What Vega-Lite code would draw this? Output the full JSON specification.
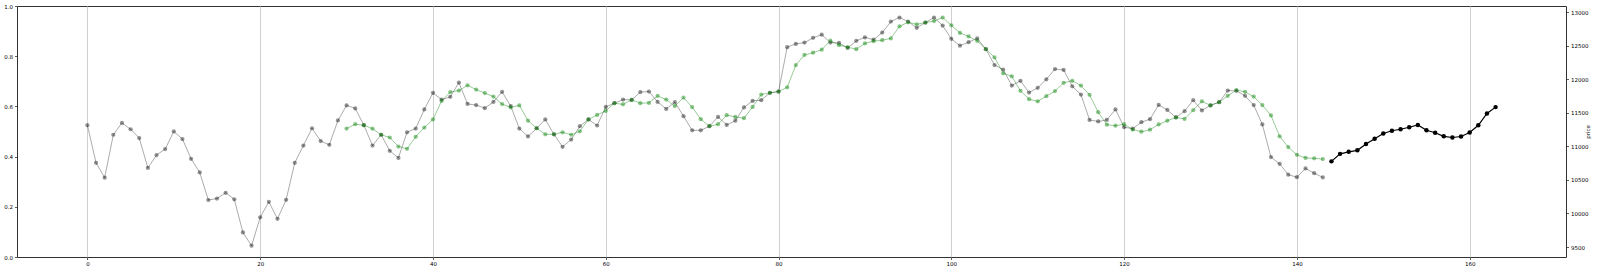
{
  "$schema": "https://vega.github.io/schema/vega-lite/v6.json",
  "width": 1549,
  "height": 251,
  "autosize": "none",
  "padding": {"left": 17, "top": 6, "right": 34, "bottom": 14},
  "background": "white",
  "config": {
    "view": {"stroke": "#333333", "strokeWidth": 1},
    "axis": {
      "labelFont": "DejaVu Sans",
      "titleFont": "DejaVu Sans",
      "labelFontSize": 5.5,
      "titleFontSize": 5.5,
      "titleFontWeight": "normal",
      "labelColor": "#000000",
      "titleColor": "#000000",
      "tickColor": "#333333",
      "tickSize": 2.5,
      "tickWidth": 0.8,
      "domain": false,
      "labelPadding": 2
    }
  },
  "datasets": {
    "leftaxis": [{"v": 0}, {"v": 1}],
    "actual": [
      {"x":0,"p":11316},{"x":1,"p":10755},{"x":2,"p":10534},{"x":3,"p":11174},{"x":4,"p":11350},{"x":5,"p":11256},{"x":6,"p":11125},{"x":7,"p":10680},{"x":8,"p":10871},{"x":9,"p":10960},
      {"x":10,"p":11223},{"x":11,"p":11110},{"x":12,"p":10815},{"x":13,"p":10612},{"x":14,"p":10201},{"x":15,"p":10223},{"x":16,"p":10309},{"x":17,"p":10212},{"x":18,"p":9718},{"x":19,"p":9519},
      {"x":20,"p":9942},{"x":21,"p":10174},{"x":22,"p":9920},{"x":23,"p":10204},{"x":24,"p":10755},{"x":25,"p":11013},{"x":26,"p":11271},{"x":27,"p":11080},{"x":28,"p":11024},{"x":29,"p":11387},
      {"x":30,"p":11612},{"x":31,"p":11567},{"x":32,"p":11316},{"x":33,"p":11013},{"x":34,"p":11174},{"x":35,"p":10934},{"x":36,"p":10829},{"x":37,"p":11211},{"x":38,"p":11267},{"x":39,"p":11552},
      {"x":40,"p":11799},{"x":41,"p":11698},{"x":42,"p":11739},{"x":43,"p":11952},{"x":44,"p":11634},{"x":45,"p":11616},{"x":46,"p":11571},{"x":47,"p":11664},{"x":48,"p":11814},{"x":49,"p":11601},
      {"x":50,"p":11267},{"x":51,"p":11148},{"x":52,"p":11271},{"x":53,"p":11402},{"x":54,"p":11181},{"x":55,"p":10994},{"x":56,"p":11103},{"x":57,"p":11301},{"x":58,"p":11402},{"x":59,"p":11312},
      {"x":60,"p":11589},{"x":61,"p":11645},{"x":62,"p":11698},{"x":63,"p":11694},{"x":64,"p":11810},{"x":65,"p":11818},{"x":66,"p":11664},{"x":67,"p":11559},{"x":68,"p":11660},{"x":69,"p":11451},
      {"x":70,"p":11241},{"x":71,"p":11241},{"x":72,"p":11301},{"x":73,"p":11440},{"x":74,"p":11320},{"x":75,"p":11383},{"x":76,"p":11582},{"x":77,"p":11679},{"x":78,"p":11690},{"x":79,"p":11799},
      {"x":80,"p":11818},{"x":81,"p":12480},{"x":82,"p":12529},{"x":83,"p":12548},{"x":84,"p":12619},{"x":85,"p":12667},{"x":86,"p":12548},{"x":87,"p":12544},{"x":88,"p":12469},{"x":89,"p":12574},
      {"x":90,"p":12626},{"x":91,"p":12592},{"x":92,"p":12697},{"x":93,"p":12862},{"x":94,"p":12922},{"x":95,"p":12862},{"x":96,"p":12768},{"x":97,"p":12847},{"x":98,"p":12922},{"x":99,"p":12802},
      {"x":100,"p":12604},{"x":101,"p":12503},{"x":102,"p":12555},{"x":103,"p":12611},{"x":104,"p":12450},{"x":105,"p":12214},{"x":106,"p":12147},{"x":107,"p":11907},{"x":108,"p":11979},{"x":109,"p":11803},
      {"x":110,"p":11874},{"x":111,"p":12001},{"x":112,"p":12154},{"x":113,"p":12140},{"x":114,"p":11896},{"x":115,"p":11773},{"x":116,"p":11395},{"x":117,"p":11372},{"x":118,"p":11395},{"x":119,"p":11552},
      {"x":120,"p":11286},{"x":121,"p":11264},{"x":122,"p":11361},{"x":123,"p":11406},{"x":124,"p":11619},{"x":125,"p":11544},{"x":126,"p":11432},{"x":127,"p":11526},{"x":128,"p":11690},{"x":129,"p":11537},
      {"x":130,"p":11612},{"x":131,"p":11660},{"x":132,"p":11833},{"x":133,"p":11829},{"x":134,"p":11754},{"x":135,"p":11616},{"x":136,"p":11327},{"x":137,"p":10841},{"x":138,"p":10740},{"x":139,"p":10579},
      {"x":140,"p":10541},{"x":141,"p":10672},{"x":142,"p":10601},{"x":143,"p":10538}
    ],
    "pred": [
      {"x":30,"p":11267},{"x":31,"p":11331},{"x":32,"p":11316},{"x":33,"p":11264},{"x":34,"p":11174},{"x":35,"p":11133},{"x":36,"p":10998},{"x":37,"p":10964},{"x":38,"p":11144},{"x":39,"p":11282},
      {"x":40,"p":11402},{"x":41,"p":11679},{"x":42,"p":11810},{"x":43,"p":11833},{"x":44,"p":11911},{"x":45,"p":11848},{"x":46,"p":11795},{"x":47,"p":11743},{"x":48,"p":11631},{"x":49,"p":11582},
      {"x":50,"p":11612},{"x":51,"p":11383},{"x":52,"p":11271},{"x":53,"p":11181},{"x":54,"p":11181},{"x":55,"p":11211},{"x":56,"p":11174},{"x":57,"p":11226},{"x":58,"p":11402},{"x":59,"p":11470},
      {"x":60,"p":11529},{"x":61,"p":11645},{"x":62,"p":11627},{"x":63,"p":11694},{"x":64,"p":11645},{"x":65,"p":11649},{"x":66,"p":11754},{"x":67,"p":11698},{"x":68,"p":11601},{"x":69,"p":11728},
      {"x":70,"p":11586},{"x":71,"p":11406},{"x":72,"p":11301},{"x":73,"p":11331},{"x":74,"p":11466},{"x":75,"p":11440},{"x":76,"p":11421},{"x":77,"p":11589},{"x":78,"p":11773},{"x":79,"p":11799},
      {"x":80,"p":11818},{"x":81,"p":11881},{"x":82,"p":12214},{"x":83,"p":12364},{"x":84,"p":12398},{"x":85,"p":12443},{"x":86,"p":12577},{"x":87,"p":12510},{"x":88,"p":12480},{"x":89,"p":12450},
      {"x":90,"p":12536},{"x":91,"p":12570},{"x":92,"p":12585},{"x":93,"p":12611},{"x":94,"p":12791},{"x":95,"p":12851},{"x":96,"p":12821},{"x":97,"p":12847},{"x":98,"p":12869},{"x":99,"p":12922},
      {"x":100,"p":12806},{"x":101,"p":12693},{"x":102,"p":12641},{"x":103,"p":12574},{"x":104,"p":12450},{"x":105,"p":12327},{"x":106,"p":12091},{"x":107,"p":12046},{"x":108,"p":11829},{"x":109,"p":11705},
      {"x":110,"p":11672},{"x":111,"p":11750},{"x":112,"p":11825},{"x":113,"p":11949},{"x":114,"p":11979},{"x":115,"p":11907},{"x":116,"p":11769},{"x":117,"p":11511},{"x":118,"p":11324},{"x":119,"p":11309},
      {"x":120,"p":11331},{"x":121,"p":11252},{"x":122,"p":11219},{"x":123,"p":11249},{"x":124,"p":11327},{"x":125,"p":11383},{"x":126,"p":11432},{"x":127,"p":11410},{"x":128,"p":11541},{"x":129,"p":11672},
      {"x":130,"p":11612},{"x":131,"p":11660},{"x":132,"p":11754},{"x":133,"p":11840},{"x":134,"p":11814},{"x":135,"p":11743},{"x":136,"p":11616},{"x":137,"p":11462},{"x":138,"p":11151},{"x":139,"p":10990},
      {"x":140,"p":10874},{"x":141,"p":10829},{"x":142,"p":10822},{"x":143,"p":10811}
    ],
    "forecast": [
      {"x":144,"p":10777},{"x":145,"p":10889},{"x":146,"p":10919},{"x":147,"p":10942},{"x":148,"p":11035},{"x":149,"p":11114},{"x":150,"p":11193},{"x":151,"p":11234},{"x":152,"p":11256},{"x":153,"p":11286},
      {"x":154,"p":11320},{"x":155,"p":11241},{"x":156,"p":11204},{"x":157,"p":11151},{"x":158,"p":11133},{"x":159,"p":11148},{"x":160,"p":11208},{"x":161,"p":11316},{"x":162,"p":11492},{"x":163,"p":11586}
    ]
  },
  "layer": [
    {
      "data": {"name": "leftaxis"},
      "mark": {"type": "point", "opacity": 0},
      "encoding": {
        "y": {
          "field": "v", "type": "quantitative",
          "scale": {"domain": [0, 1], "nice": false, "zero": false},
          "axis": {"orient": "left", "values": [0, 0.2, 0.4, 0.6, 0.8, 1.0], "format": ".1f", "title": null, "grid": false}
        }
      }
    },
    {
      "encoding": {
        "x": {
          "field": "x", "type": "quantitative",
          "scale": {"domain": [-8.15, 171.15], "nice": false, "zero": false},
          "axis": {"values": [0, 20, 40, 60, 80, 100, 120, 140, 160], "format": "d", "title": null, "grid": true, "gridColor": "#cfcfcf", "gridWidth": 1}
        },
        "y": {
          "field": "p", "type": "quantitative",
          "scale": {"domain": [9351, 13094], "nice": false, "zero": false},
          "axis": {"orient": "right", "values": [9500, 10000, 10500, 11000, 11500, 12000, 12500, 13000], "format": "d", "title": "price", "titleAngle": 270, "titleBaseline": "bottom", "grid": false, "titlePadding": 3}
        }
      },
      "layer": [
        {"data": {"name": "actual"}, "mark": {"type": "line", "color": "#000000", "opacity": 0.33, "strokeWidth": 1}},
        {"data": {"name": "actual"}, "mark": {"type": "circle", "color": "#000000", "opacity": 0.42, "size": 18}},
        {"data": {"name": "pred"}, "mark": {"type": "line", "color": "#008000", "opacity": 0.4, "strokeWidth": 1}},
        {"data": {"name": "pred"}, "mark": {"type": "circle", "color": "#008000", "opacity": 0.45, "size": 18}},
        {"data": {"name": "forecast"}, "mark": {"type": "line", "color": "#000000", "strokeWidth": 1.2}},
        {"data": {"name": "forecast"}, "mark": {"type": "circle", "color": "#000000", "opacity": 1, "size": 20}}
      ]
    }
  ],
  "resolve": {"scale": {"y": "independent"}}
}
